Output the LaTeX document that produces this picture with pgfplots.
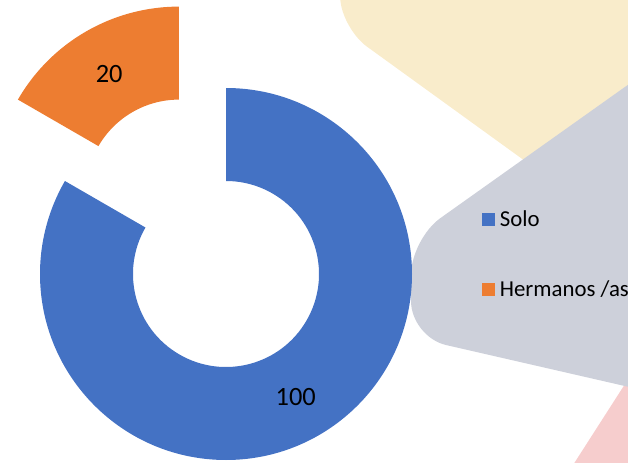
\documentclass[border=0pt]{standalone}
\usepackage{pgfplots}
\usepackage{pgfplotstable}
\pgfplotsset{compat=1.18}
\usepackage{fontspec}
\setmainfont{Carlito}
\definecolor{cblue}{HTML}{4472C4}
\definecolor{corange}{HTML}{ED7D31}
\definecolor{cbeige}{HTML}{F9ECCB}
\definecolor{cgray}{HTML}{CDD0DA}
\definecolor{cpink}{HTML}{F6CDCD}
\pgfplotstableread{
name value
Solo 100
Hermanos 20
}\datatable
\begin{document}
\begin{tikzpicture}
\pgfplotstablegetelem{0}{value}\of\datatable \let\va\pgfplotsretval
\pgfplotstablegetelem{1}{value}\of\datatable \let\vb\pgfplotsretval
\pgfmathsetmacro\tot{\va+\vb}
\pgfmathsetmacro\fa{\va/\tot}
\pgfmathsetmacro\fb{\vb/\tot}
\pgfmathsetmacro\aEnd{90-360*\fa}
\pgfmathsetmacro\aMid{90-180*\fa}
\pgfmathsetmacro\bEnd{\aEnd-360*\fb}
\pgfmathsetmacro\bMid{(\aEnd+\bEnd)/2}
\pgfmathtruncatemacro\la{\va}
\pgfmathtruncatemacro\lb{\vb}
\useasboundingbox (0,0) rectangle (314pt,231pt);
\clip (0,0) rectangle (314pt,231pt);
\begin{axis}[at={(0,0)}, anchor=south west, x=0.5pt, y=0.5pt,
  xmin=0, xmax=628, ymin=0, ymax=462, hide axis, clip=false]
% background shapes (image y flipped: y = 462 - y_img)
\fill[cbeige, rounded corners=14pt] (axis cs:333,522) -- (axis cs:344,432) -- (axis cs:590,254) [sharp corners] -- (axis cs:720,254) -- (axis cs:720,522) -- cycle;
\fill[cpink] (axis cs:634,92) -- (axis cs:557,-28) -- (axis cs:720,-28) -- (axis cs:720,92) -- cycle;
\fill[cgray, rounded corners=18pt] (axis cs:760,471) -- (axis cs:411,223) -- (axis cs:411,125) -- (axis cs:760,45) [sharp corners] -- cycle;
% donut: Solo
\fill[cblue] (axis cs:226,188) ++(90:93pt) arc[start angle=90, end angle=\aEnd, radius=93pt]
  -- ++(\aEnd+180:46.5pt) arc[start angle=\aEnd, end angle=90, radius=46.5pt] -- cycle;
% donut: Hermanos (exploded)
\fill[corange] ([shift={(\bMid:47pt)}]axis cs:226,188) ++(\aEnd:93pt) arc[start angle=\aEnd, end angle=\bEnd, radius=93pt]
  -- ++(\bEnd+180:46.5pt) arc[start angle=\bEnd, end angle=\aEnd, radius=46.5pt] -- cycle;
% data labels
\node[inner sep=0, yshift=-1pt, font=\fontsize{13.2}{16}\selectfont] at ([shift={(\aMid:69.75pt)}]axis cs:226,188) {\la};
\node[inner sep=0, yshift=-1pt, font=\fontsize{13.2}{16}\selectfont] at ([shift={(\bMid:116.75pt)}]axis cs:226,188) {\lb};
% legend
\fill[cblue] (axis cs:482,236) rectangle (axis cs:495,249);
\node[inner sep=0, anchor=base west, font=\fontsize{11.4}{13}\selectfont] at (axis cs:499.5,236) {Solo};
\fill[corange] (axis cs:482,166) rectangle (axis cs:495,179);
\node[inner sep=0, anchor=base west, font=\fontsize{11.4}{13}\selectfont] at (axis cs:499.5,166) {Hermanos /as};
\end{axis}
\end{tikzpicture}
\end{document}
